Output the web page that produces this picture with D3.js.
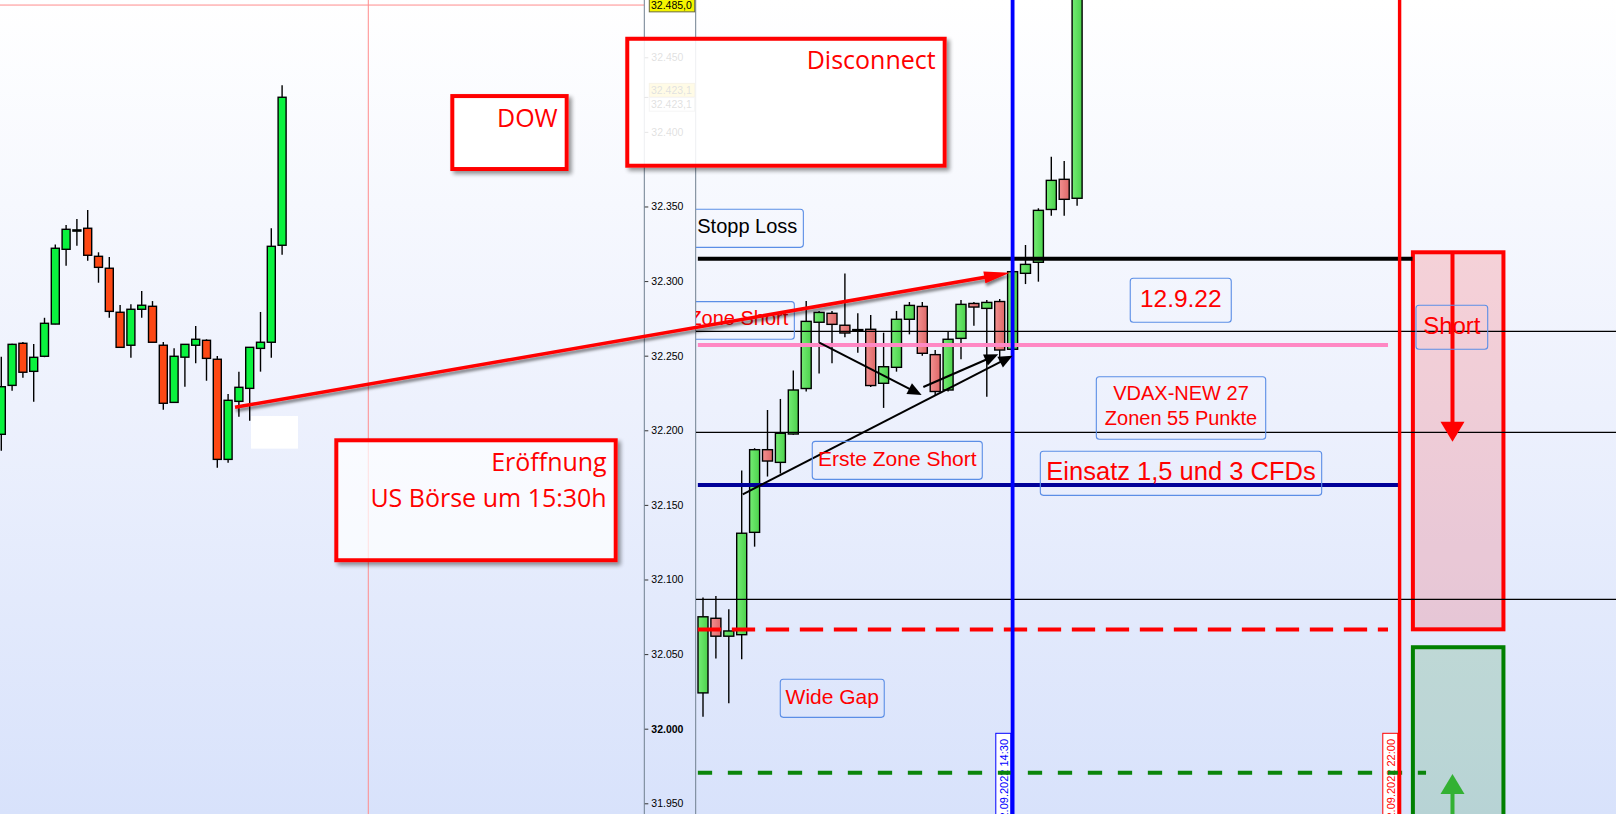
<!DOCTYPE html>
<html><head><meta charset="utf-8">
<script src="https://cdn.jsdelivr.net/npm/d3@7"></script>
<style>html,body{margin:0;padding:0;overflow:hidden;background:#fff}</style>
</head><body><svg id="c" width="1616" height="814"></svg>
<script>
// ---------------- DATA ----------------
// DOW panel candles [open, high, low, close]
const dowOHLC = [
 [32197.3,32249.3,32186.3,32229.2],[32230.1,32258.0,32226.5,32257.6],[32258.3,32259.2,32235.2,32238.9],
 [32239.5,32257.8,32219.2,32248.9],[32249.6,32275.4,32249.0,32271.7],[32271.2,32324.6,32271.0,32322.0],
 [32321.3,32337.6,32310.3,32334.7],[32334.0,32341.6,32323.7,32334.3],[32335.4,32347.6,32313.7,32317.3],
 [32316.6,32319.3,32298.9,32309.2],[32308.6,32316.1,32275.4,32279.7],[32279.1,32284.0,32255.6,32255.6],
 [32257.0,32284.4,32248.6,32281.1],[32281.1,32293.3,32275.4,32283.8],[32283.1,32286.6,32259.0,32259.0],
 [32257.0,32259.2,32213.8,32218.1],[32218.7,32254.9,32218.7,32249.6],[32249.0,32257.6,32229.2,32257.6],
 [32257.0,32269.9,32244.9,32261.0],[32260.3,32261.0,32233.2,32248.2],[32247.6,32249.8,32174.9,32180.5],
 [32180.5,32224.3,32178.3,32220.1],[32219.4,32239.3,32209.1,32228.8],[32228.1,32255.6,32206.4,32255.6],
 [32254.9,32279.3,32239.3,32259.0],[32259.0,32335.4,32248.6,32323.3],[32324.0,32431.2,32317.7,32423.2]
];
// main panel candles [open, high, low, close]
const mainOHLC = [
 [32024.0,32088.0,32008.0,32075.0],[32074.0,32089.0,32047.0,32062.0],[32062.0,32080.0,32017.0,32065.5],
 [32063.0,32173.0,32046.5,32131.0],[32131.6,32188.0,32122.0,32187.0],[32187.0,32213.6,32169.0,32179.4],
 [32178.5,32221.0,32171.0,32198.0],[32197.5,32240.0,32197.0,32227.0],[32228.0,32286.6,32226.0,32273.0],
 [32272.4,32280.0,32238.0,32279.0],[32278.4,32280.0,32245.0,32271.0],[32270.4,32305.0,32262.3,32265.2],
 [32267.5,32278.4,32252.0,32267.0],[32267.7,32277.3,32229.0,32230.0],[32231.5,32265.4,32215.0,32242.6],
 [32242.2,32280.0,32239.3,32274.4],[32274.4,32286.0,32264.3,32283.7],[32283.0,32286.0,32250.0,32251.6],
 [32250.7,32253.8,32223.6,32226.0],[32227.0,32266.5,32226.0,32261.0],[32261.6,32287.3,32247.6,32284.4],
 [32285.0,32286.0,32270.0,32282.6],[32281.7,32287.3,32222.5,32285.7],[32286.3,32288.0,32247.0,32253.8],
 [32254.3,32306.5,32253.0,32306.3],[32305.2,32324.2,32298.0,32311.2],[32312.6,32348.8,32299.6,32347.4],
 [32348.0,32383.4,32343.8,32367.5],[32368.2,32380.5,32343.8,32354.8],[32355.5,32520.0,32350.5,32510.0]
];
const priceTicks = [31950,32000,32050,32100,32150,32200,32250,32300,32350,32400,32450];
const gridLevels = [32266.3, 32198.6, 32086.7];
const stopLoss = 32315, pinkLevel = 32257.2, entryLevel = 32163.3, shortTarget = 32066.4, longTarget = 31970.5;
const lastPrice = 32485.0, markPrice = 32423.1;
const openIdx = 24, closeIdx = 54;
const dateLabels = [{i: openIdx, t: "12.09.2022 14:30", c: "#0000ff"}, {i: closeIdx, t: "12.09.2022 22:00", c: "#ff0000"}];
// blue-framed notes in the main panel: index range, price range
const notes = [
 {i0:-4, i1:7.78, p0:32348.1, p1:32322.6, lines:["Stopp Loss"], fs:20, col:"#000", align:"end"},
 {i0:-4, i1:7.08, p0:32286.2, p1:32261.0, lines:["Zone Short"], fs:20, col:"#ff0000", align:"end"},
 {i0:33.12, i1:40.95, p0:32301.9, p1:32272.4, lines:["12.9.22"], fs:24.5, col:"#ff0000", align:"middle"},
 {i0:30.49, i1:43.62, p0:32235.9, p1:32194.0, lines:["VDAX-NEW 27","Zonen 55 Punkte"], fs:20, col:"#ff0000", align:"middle"},
 {i0:8.47, i1:21.65, p0:32192.6, p1:32167.1, lines:["Erste Zone Short"], fs:21, col:"#ff0000", align:"middle"},
 {i0:26.15, i1:47.96, p0:32185.9, p1:32156.4, lines:["Einsatz 1,5 und 3 CFDs"], fs:25.5, col:"#ff0000", align:"middle"},
 {i0:5.99, i1:14.05, p0:32033.1, p1:32007.6, lines:["Wide Gap"], fs:21, col:"#ff0000", align:"middle"},
 {i0:55.27, i1:60.83, p0:32283.8, p1:32254.3, lines:["Short"], fs:24, col:"#ff0000", align:"middle"}
];
// red framed callouts (DOW panel index units)
const callouts = [
 {i0:41.76, i1:52.35, p0:32424.0, p1:32375.1, lines:["DOW"], op:0.95},
 {i0:57.96, i1:87.35, p0:32462.4, p1:32377.3, lines:["Disconnect"], op:0.88},
 {i0:31.02, i1:56.89, p0:32193.3, p1:32112.9, lines:["Eröffnung","US Börse um 15:30h"], op:0.72}
];
const shortZone = {i0:55.03, i1:62.05, p0:32319.3, p1:32066.6};
const longZone = {i0:55.03, i1:62.05, p0:32054.6, p1:31880};
const zoneArrowIdx = 58.1;
const blackArrows = [
 [[9.02,32258.7],[16.95,32223.6]],
 [[17.08,32229.0],[22.89,32250.9]],
 [[3.08,32157.1],[24.0,32250.0]]
];
const redArrow = {from:[21.64,32215.4], to:[23.8,32305.5]}; // from: DOW index, to: main index
const crosshair = {i:33.98, p:32485};

// ---------------- SETUP ----------------
const W = 1616, H = 814;
const svg = d3.select('#c');
const defs = svg.append('defs');
const bg = defs.append('linearGradient').attr('id','bg').attr('x1',0).attr('y1',0).attr('x2',0).attr('y2',1);
bg.selectAll('stop').data([[0,'#ffffff'],[0.5,'#edf1fd'],[1,'#d8e2fb']]).join('stop')
  .attr('offset',d=>d[0]).attr('stop-color',d=>d[1]);
function hGrad(id, a, b){
  const g = defs.append('linearGradient').attr('id',id).attr('x1',0).attr('y1',0).attr('x2',1).attr('y2',0);
  g.append('stop').attr('offset',0).attr('stop-color',a);
  g.append('stop').attr('offset',1).attr('stop-color',b);
}
hGrad('gUp','#74ec74','#4cd24c'); hGrad('gDn','#f29090','#de6868');
const blur = defs.append('filter').attr('id','blur').attr('x','-10%').attr('y','-10%').attr('width','120%').attr('height','120%');
blur.append('feGaussianBlur').attr('stdDeviation',2);
const sh2 = defs.append('filter').attr('id','sh2').attr('x','-5%').attr('y','-50%').attr('width','110%').attr('height','300%');
sh2.append('feDropShadow').attr('dx',1).attr('dy',3).attr('stdDeviation',1.5).attr('flood-color','#000').attr('flood-opacity',0.5);
defs.append('clipPath').attr('id','clipL').append('rect').attr('x',0).attr('y',0).attr('width',644).attr('height',H);
defs.append('clipPath').attr('id','clipR').append('rect').attr('x',696).attr('y',0).attr('width',W-696).attr('height',H);

svg.append('rect').attr('width',W).attr('height',H).attr('fill','url(#bg)');

const y = d3.scaleLinear().domain([31950, 32485]).range([803.3, 5.05]);
const xL = d3.scaleLinear().domain([0, 26]).range([1.3, 282.1]);
const xR = d3.scaleLinear().domain([0, 29]).range([703, 1077.1]);
const loc = d3.formatLocale({decimal:",", thousands:".", grouping:[3], currency:["","€"]});
const f0 = loc.format(",.0f"), f1 = loc.format(",.1f");

function drawCandles(g, data, x, bw, up, dn){
  const c = g.append('g').selectAll('g').data(data).join('g');
  c.append('line').attr('x1',(d,i)=>x(i)).attr('x2',(d,i)=>x(i))
    .attr('y1',d=>y(d[1])).attr('y2',d=>y(d[2])).attr('stroke','#000').attr('stroke-width',1.4);
  c.append('rect').attr('x',(d,i)=>x(i)-bw/2).attr('width',bw)
    .attr('y',d=>y(Math.max(d[0],d[3])))
    .attr('height',d=>Math.max(1.2, Math.abs(y(d[0])-y(d[3]))))
    .attr('fill',d=>d[3]>=d[0]?up:dn).attr('stroke','#000').attr('stroke-width',1.4);
}
function arrow(g, x1,y1,x2,y2, color, lw, hl, hw){
  const a = Math.atan2(y2-y1, x2-x1);
  const bx = x2 - hl*Math.cos(a), by = y2 - hl*Math.sin(a);
  const px = -Math.sin(a)*hw/2, py = Math.cos(a)*hw/2;
  g.append('line').attr('x1',x1).attr('y1',y1).attr('x2',bx+(x2-bx)*0.3).attr('y2',by+(y2-by)*0.3)
    .attr('stroke',color).attr('stroke-width',lw);
  g.append('path').attr('d',`M${x2},${y2}L${bx+px},${by+py}L${bx-px},${by-py}Z`).attr('fill',color);
}

// ---------------- LEFT (DOW) PANEL ----------------
const gL = svg.append('g').attr('clip-path','url(#clipL)');
gL.append('line').attr('x1',xL(crosshair.i)).attr('x2',xL(crosshair.i)).attr('y1',0).attr('y2',H)
  .attr('stroke','#ff8c8c').attr('stroke-width',1);
gL.append('line').attr('x1',0).attr('x2',644).attr('y1',y(crosshair.p)).attr('y2',y(crosshair.p))
  .attr('stroke','#ff8c8c').attr('stroke-width',1);
drawCandles(gL, dowOHLC, xL, 8, '#0af23e', '#fd4814');
gL.append('rect').attr('x',xL(23.12)).attr('width',xL(27.47)-xL(23.12))
  .attr('y',y(32209.6)).attr('height',y(32187.7)-y(32209.6)).attr('fill','#ffffff');

// ---------------- AXIS STRIP ----------------
const gA = svg.append('g').attr('transform','translate(644.3,0)');
const ax = d3.axisRight(y).tickValues(priceTicks).tickFormat(f0).tickSize(4).tickPadding(3);
gA.call(ax);
gA.select('.domain').remove();
gA.selectAll('.tick line').attr('stroke','#333');
gA.selectAll('.tick text').attr('font-family','"Liberation Sans", Arial, sans-serif').attr('font-size',10.5)
  .attr('fill','#000').attr('font-weight',d=>d===32000?'bold':'normal');
svg.append('line').attr('x1',644.3).attr('x2',644.3).attr('y1',0).attr('y2',H).attr('stroke','#6f7f8f');
svg.append('line').attr('x1',695.7).attr('x2',695.7).attr('y1',0).attr('y2',H).attr('stroke','#6f7f8f');
function priceTag(v, dy, fill, stroke){
  const yy = y(v)+dy;
  svg.append('rect').attr('x',649.3).attr('y',yy-6.8).attr('width',45.4).attr('height',13.6)
    .attr('fill',fill).attr('stroke',stroke).attr('stroke-width',1);
  svg.append('text').attr('x',651).attr('y',yy).attr('dy','0.35em').text(f1(v))
    .attr('font-family','"Liberation Sans", Arial, sans-serif').attr('font-size',10.5).attr('fill','#000');
}
priceTag(markPrice, -7.2, '#ffdc30', '#c0a040');
priceTag(markPrice, 7, '#ffffff', '#aaaaaa');
svg.append('line').attr('x1',644.3).attr('x2',648.3).attr('y1',y(markPrice)).attr('y2',y(markPrice)).attr('stroke','#333');
priceTag(lastPrice, 0, '#f5f500', '#6a6a40');

// ---------------- RIGHT (MAIN) PANEL ----------------
const gR = svg.append('g').attr('clip-path','url(#clipR)');
const zs = gR.append('g');
zs.append('rect').attr('x',xR(shortZone.i0)).attr('width',xR(shortZone.i1)-xR(shortZone.i0))
  .attr('y',y(shortZone.p0)).attr('height',y(shortZone.p1)-y(shortZone.p0))
  .attr('fill','rgba(255,0,0,0.15)').attr('stroke','#ff0000').attr('stroke-width',4);
zs.append('rect').attr('x',xR(longZone.i0)).attr('width',xR(longZone.i1)-xR(longZone.i0))
  .attr('y',y(longZone.p0)).attr('height',y(longZone.p1)-y(longZone.p0))
  .attr('fill','rgba(0,128,0,0.15)').attr('stroke','#008000').attr('stroke-width',4);

// date labels
dateLabels.forEach(d=>{
  const xr = xR(d.i) - 1.8, w = 15;
  gR.append('rect').attr('x',xr-w).attr('y',733.3).attr('width',w).attr('height',100)
    .attr('fill','#ffffff').attr('stroke',d.c).attr('stroke-width',1);
  gR.append('text').attr('transform',`translate(${xr-w/2+0.5},739) rotate(-90)`)
    .attr('text-anchor','end').attr('dy','0.36em').text(d.t)
    .attr('font-family','"Liberation Sans", Arial, sans-serif').attr('font-size',11).attr('fill',d.c);
});

drawCandles(gR, mainOHLC, xR, 10, 'url(#gUp)', 'url(#gDn)');

const xLeft = xR(-1), xRight = W+5;
gridLevels.forEach(p=>{
  gR.append('line').attr('x1',xLeft).attr('x2',xRight).attr('y1',y(p)).attr('y2',y(p))
    .attr('stroke','#000').attr('stroke-width',1.1);
});
function level(p, iEnd, color, w, dash){
  const l = gR.append('line').attr('x1',xR(-0.4)).attr('x2',xR(iEnd)).attr('y1',y(p)).attr('y2',y(p))
    .attr('stroke',color).attr('stroke-width',w);
  if (dash) l.attr('stroke-dasharray',dash);
}
level(pinkLevel, 53.1, '#ff88c4', 4);
level(entryLevel, 54, '#000099', 4);
level(shortTarget, 53.1, '#ff0000', 4, '23.3,10.7');
level(longTarget, 56.05, '#0b850b', 4, '14.3,15.7');
level(stopLoss, 55.0, '#000000', 4);
gR.append('line').attr('x1',xR(openIdx)).attr('x2',xR(openIdx)).attr('y1',0).attr('y2',H).attr('stroke','#0000ff').attr('stroke-width',3.8);
gR.append('line').attr('x1',xR(closeIdx)).attr('x2',xR(closeIdx)).attr('y1',0).attr('y2',H).attr('stroke','#ff0000').attr('stroke-width',3.4);

// zone arrows
const za = gR.append('g');
arrow(za, xR(zoneArrowIdx), y(shortZone.p0), xR(zoneArrowIdx), y(32192.4), '#ff0000', 4, 20, 24);
arrow(za, xR(zoneArrowIdx), y(31880), xR(zoneArrowIdx), y(31969.7), '#33b133', 4, 20, 24);

// black arrows
const ba = gR.append('g');
blackArrows.forEach(a=>arrow(ba, xR(a[0][0]), y(a[0][1]), xR(a[1][0]), y(a[1][1]), '#000', 2, 14, 12));

// notes
notes.forEach(n=>{
  const x0 = xR(n.i0), x1 = xR(n.i1), y0 = y(n.p0), y1 = y(n.p1), h = y1-y0;
  gR.append('rect').attr('x',x0).attr('y',y0).attr('width',x1-x0).attr('height',h).attr('rx',3)
    .attr('fill','none').attr('stroke','#5b8ee6').attr('stroke-width',1.1);
  const tx = n.align==='end' ? x1-6 : (x0+x1)/2;
  const lh = n.fs*1.25;
  const base = y0 + h/2 + 0.36*n.fs - 2.3 - (n.lines.length-1)*lh/2;
  n.lines.forEach((t,k)=>{
    gR.append('text').attr('x',tx).attr('y',base+k*lh).attr('text-anchor',n.align).text(t)
      .attr('font-family','"Liberation Sans", Arial, sans-serif').attr('font-size',n.fs).attr('fill',n.col);
  });
});

// ---------------- CALLOUTS ----------------
callouts.forEach((c,k)=>{
  const x0 = xL(c.i0), x1 = xL(c.i1), y0 = y(c.p0), y1 = y(c.p1);
  const m = defs.append('mask').attr('id','cm'+k).attr('maskUnits','userSpaceOnUse')
    .attr('x',0).attr('y',0).attr('width',W).attr('height',H);
  m.append('rect').attr('width',W).attr('height',H).attr('fill','#fff');
  m.append('rect').attr('x',x0-2).attr('y',y0-2).attr('width',x1-x0+4).attr('height',y1-y0+4).attr('fill','#000');
  svg.append('g').attr('mask','url(#cm'+k+')')
    .append('rect').attr('x',x0+1).attr('y',y0+1).attr('width',x1-x0+4).attr('height',y1-y0+4)
    .attr('fill','#000').attr('opacity',0.42).attr('filter','url(#blur)');
  svg.append('rect').attr('x',x0).attr('y',y0).attr('width',x1-x0).attr('height',y1-y0)
    .attr('fill','#ffffff').attr('fill-opacity',c.op).attr('stroke','#ff0000').attr('stroke-width',4);
  c.lines.forEach((t,j)=>{
    svg.append('text').attr('x',x1-9).attr('y',y0+30.6+j*36.6).attr('text-anchor','end').text(t)
      .attr('font-family','"Open Sans", "Noto Sans", sans-serif').attr('font-size',25).attr('fill','#ff0000');
  });
});

// long red arrow from DOW panel to main panel
const ra = svg.append('g').attr('filter','url(#sh2)');
arrow(ra, xL(redArrow.from[0]), y(redArrow.from[1]), xR(redArrow.to[0]), y(redArrow.to[1]), '#ff0000', 3.5, 26, 12);
</script></body></html>
